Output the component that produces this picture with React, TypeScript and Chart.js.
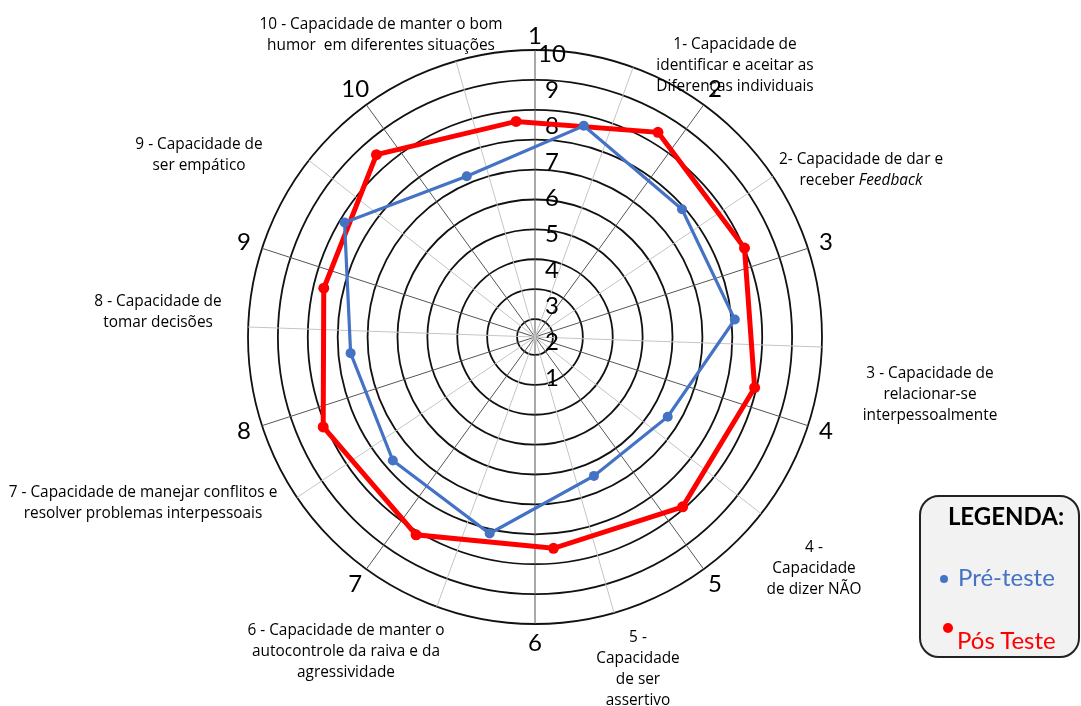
import React, { useEffect, useRef } from 'react';
import { Chart, registerables } from 'chart.js';

Chart.register(...registerables);

// ---------- data ----------
const skills = [
  '1- Capacidade de identificar e aceitar as Diferenças individuais',
  '2- Capacidade de dar e receber Feedback',
  '3 - Capacidade de relacionar-se interpessoalmente',
  '4 - Capacidade de dizer NÃO',
  '5 - Capacidade de ser assertivo',
  '6 - Capacidade de manter o autocontrole da raiva e da agressividade',
  '7 - Capacidade de manejar conflitos e resolver problemas interpessoais',
  '8 - Capacidade de tomar decisões',
  '9 - Capacidade de ser empático',
  '10 - Capacidade de manter o bom humor em diferentes situações',
];

const skillLabelLines = [
  ['1- Capacidade de', 'identificar e aceitar as', 'Diferenças individuais'],
  ['2- Capacidade de dar e', 'receber *Feedback*'],
  ['3 - Capacidade de', 'relacionar-se', 'interpessoalmente'],
  ['4 -', 'Capacidade', 'de dizer NÃO'],
  ['5 -', 'Capacidade', 'de ser', 'assertivo'],
  ['6 - Capacidade de manter o', 'autocontrole da raiva e da', 'agressividade'],
  ['7 - Capacidade de manejar conflitos e', 'resolver problemas interpessoais'],
  ['8 - Capacidade de', 'tomar decisões'],
  ['9 - Capacidade de', 'ser empático'],
  ['10 - Capacidade de manter o bom', 'humor  em diferentes situações'],
];

const axisNumbers = ['1', '2', '3', '4', '5', '6', '7', '8', '9', '10'];
const tickValues = [1, 2, 3, 4, 5, 6, 7, 8, 9, 10];
const ringValues = [1, 2, 3, 4, 5, 6, 7, 8, 9, 10];

const preTeste = [8.17, 7.56, 7.72, 6.45, 6.34, 7.75, 7.38, 7.29, 8.32, 7.0];
const posTeste = [8.78, 8.47, 8.41, 8.4, 8.04, 8.56, 8.54, 8.17, 8.86, 8.16];

const legendTitle = 'LEGENDA:';
const seriesNames = ['Pré-teste', 'Pós Teste'];

// ---------- layout / style ----------
const FONT = 'Lato, "Open Sans", sans-serif';
const TEXT_FONT = '"Open Sans", Lato, sans-serif';
const BLUE = '#4472C4';
const RED = '#FF0000';
const RING_MIN = 0.4;
const RING_MAX = 10;
const VALUE_MIN = 2.15;
const VALUE_MAX = 10.12;

// centre x, top y of each descriptive label block
const labelPlacement: [number, number][] = [
  [735, 33],
  [861, 148],
  [930, 362],
  [814, 536],
  [638, 626],
  [346, 619],
  [143, 481],
  [158, 290],
  [199, 133],
  [381, 13],
];

const baseScale = (min: number, max: number, startAngle: number) => ({
  type: 'radialLinear',
  axis: 'r',
  display: true,
  min,
  max,
  startAngle,
  ticks: {
    display: true,
    font: { size: 24, family: FONT },
    backdropPadding: 0,
    showLabelBackdrop: false,
    color: 'rgba(0,0,0,0)',
    callback: (v: number) => `${v}`,
  },
  pointLabels: { display: false },
  grid: { display: false },
  angleLines: { display: false },
});

const axisNumberPlugin = {
  id: 'axisNumbers',
  afterDraw(chart: any) {
    const s = chart.scales.r;
    const ctx = chart.ctx;
    ctx.save();
    ctx.font = `24px ${FONT}`;
    ctx.fillStyle = '#000';
    ctx.textAlign = 'center';
    ctx.textBaseline = 'middle';
    axisNumbers.forEach((t, i) => {
      const p = s.getPointPosition(i, s.drawingArea + (i === 0 ? 14 : 19));
      ctx.fillText(t, p.x, p.y);
    });
    ctx.restore();
  },
};

function renderLine(line: string) {
  const parts = line.split('*');
  return parts.map((p, i) => (i % 2 === 1 ? <i key={i}>{p}</i> : <span key={i}>{p}</span>));
}

export default function App() {
  const canvasRef = useRef<HTMLCanvasElement | null>(null);

  useEffect(() => {
    const canvas = canvasRef.current;
    if (!canvas) return;
    const gridScale: any = baseScale(RING_MIN, RING_MAX, 0);
    gridScale.afterBuildTicks = (s: any) => {
      s.ticks = [RING_MIN, ...ringValues].map((v) => ({ value: v }));
    };
    gridScale.grid = { display: true, circular: true, color: '#111', lineWidth: 1.8 };
    gridScale.angleLines = { display: true, color: '#555', lineWidth: 1 };

    const spokeScale: any = baseScale(RING_MIN, RING_MAX, 20);
    spokeScale.angleLines = { display: true, color: '#c4c4c4', lineWidth: 1 };

    const tickScale: any = baseScale(VALUE_MIN, VALUE_MAX, 0);
    tickScale.ticks = { ...tickScale.ticks, color: '#000' };
    tickScale.afterBuildTicks = (s: any) => {
      s.ticks = [VALUE_MIN, ...tickValues].map((v) => ({ value: v }));
    };
    tickScale.afterFit = (s: any) => {
      s.xCenter += 17;
    };

    const chart = new Chart(canvas, {
      type: 'radar',
      data: {
        labels: skills,
        datasets: [
          {
            label: seriesNames[0],
            data: preTeste,
            rAxisID: 'rBlue',
            borderColor: BLUE,
            backgroundColor: BLUE,
            pointBackgroundColor: BLUE,
            pointBorderColor: BLUE,
            borderWidth: 3.2,
            pointRadius: 5,
            pointBorderWidth: 0,
            fill: false,
            tension: 0,
          } as any,
          {
            label: seriesNames[1],
            data: posTeste,
            rAxisID: 'rRed',
            borderColor: RED,
            backgroundColor: RED,
            pointBackgroundColor: RED,
            pointBorderColor: RED,
            borderWidth: 5,
            pointRadius: 5.5,
            pointBorderWidth: 0,
            fill: false,
            tension: 0,
          } as any,
        ],
      },
      options: {
        responsive: false,
        animation: false,
        layout: { padding: { left: 236, top: 38, right: 247, bottom: 70 } },
        plugins: { legend: { display: false }, tooltip: { enabled: false } },
        scales: {
          r: gridScale,
          rSpokes: spokeScale,
          rTicks: tickScale,
          rBlue: baseScale(VALUE_MIN, VALUE_MAX, 13),
          rRed: baseScale(VALUE_MIN, VALUE_MAX, 31),
        } as any,
      },
      plugins: [axisNumberPlugin],
    });
    return () => chart.destroy();
  }, []);

  return (
    <div
      style={{
        position: 'fixed',
        left: 0,
        top: 0,
        width: 1081,
        height: 706,
        background: '#fff',
        fontFamily: FONT,
        overflow: 'hidden',
      }}
    >
      <canvas ref={canvasRef} width={1081} height={706} style={{ display: 'block' }} />
      {skillLabelLines.map((lines, i) => (
        <div
          key={i}
          style={{
            position: 'absolute',
            left: labelPlacement[i][0],
            top: labelPlacement[i][1],
            transform: 'translateX(-50%)',
            textAlign: 'center',
            whiteSpace: 'pre',
            fontFamily: TEXT_FONT,
            fontSize: 15.4,
            lineHeight: '21px',
            color: '#000',
          }}
        >
          {lines.map((l, j) => (
            <div key={j}>{renderLine(l)}</div>
          ))}
        </div>
      ))}
      <div
        style={{
          position: 'absolute',
          left: 919,
          top: 495,
          width: 161,
          height: 163,
          boxSizing: 'border-box',
          border: '2px solid #222',
          borderRadius: 20,
          background: '#f2f2f2',
        }}
      >
        <div
          style={{
            position: 'absolute',
            left: 85,
            top: 4,
            transform: 'translateX(-50%)',
            whiteSpace: 'nowrap',
            fontWeight: 'bold',
            fontSize: 24,
            lineHeight: '30px',
            color: '#000',
          }}
        >
          {legendTitle}
        </div>
        <div style={{ position: 'absolute', left: 19, top: 78, width: 8, height: 8, borderRadius: '50%', background: BLUE }} />
        <div style={{ position: 'absolute', left: 37, top: 65, fontSize: 24, lineHeight: '30px', color: BLUE, whiteSpace: 'nowrap' }}>
          {seriesNames[0]}
        </div>
        <div style={{ position: 'absolute', left: 22, top: 126, width: 10, height: 10, borderRadius: '50%', background: RED }} />
        <div style={{ position: 'absolute', left: 36, top: 128, fontSize: 24, lineHeight: '30px', color: RED, whiteSpace: 'nowrap' }}>
          {seriesNames[1]}
        </div>
      </div>
    </div>
  );
}
